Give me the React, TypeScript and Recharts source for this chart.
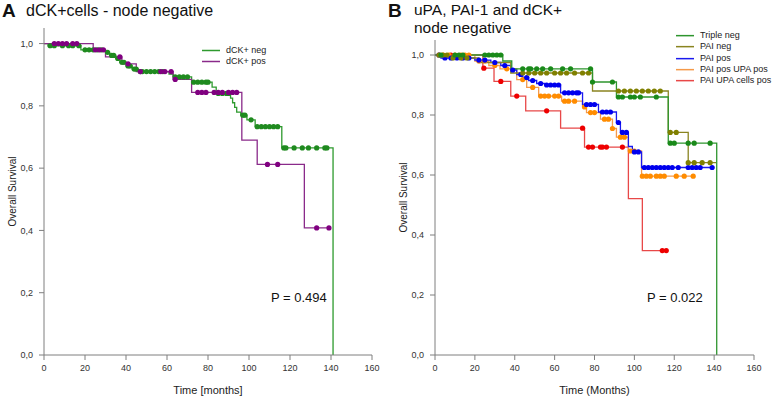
import React from "react";
import { ComposedChart, Line, XAxis, YAxis } from "recharts";

type Step = [number, number];

const xTicks = [0, 20, 40, 60, 80, 100, 120, 140, 160];
const yTicks = [0, 0.2, 0.4, 0.6, 0.8, 1.0];

// panel A: dCK+ cells, node negative
const dckNegSteps: Step[] = [
  [0, 1], [2, 0.993], [18, 0.98], [30, 0.972], [32, 0.962], [35, 0.952], [37, 0.94],
  [40, 0.928], [43, 0.918], [46, 0.91], [61, 0.902], [63, 0.893], [72, 0.876],
  [82, 0.86], [84, 0.84], [91, 0.825], [92, 0.81], [93, 0.795], [94, 0.78],
  [96, 0.77], [99, 0.755], [103, 0.733], [116, 0.665], [141, 0],
];
const dckNegCensored = [
  3, 5, 9, 12, 14, 17, 20, 22, 24, 26, 28, 31, 33, 34, 36, 38, 39, 41, 42, 44, 45, 47,
  48, 50, 52, 54, 56, 58, 64, 66, 68, 70, 73, 75, 77, 79, 80, 85, 87, 89, 90, 97, 98,
  101, 104, 106, 108, 110, 112, 114, 117, 118, 122, 126, 129, 133, 137, 138,
];
const dckNegEnd = 141;

const dckPosSteps: Step[] = [
  [0, 1], [24, 0.98], [30, 0.957], [38, 0.935], [45, 0.91], [63, 0.885],
  [72, 0.843], [96.5, 0.69], [104, 0.612], [127, 0.408],
];
const dckPosCensored = [
  5, 7, 9, 11, 14, 16, 25, 27, 29, 37, 41, 47, 57, 59, 62, 64, 75, 77, 79, 83, 85,
  87, 90, 92, 94, 109, 114, 133, 139,
];
const dckPosEnd = 139;

// panel B: uPA, PAI-1 and dCK+, node negative
const tripleNegSteps: Step[] = [
  [0, 1], [34, 0.98], [38.5, 0.954], [79, 0.91], [91, 0.86], [117, 0.706], [141.3, 0],
];
const tripleNegCensored = [
  3, 10, 12, 14, 25, 27, 29, 31, 33, 44, 47, 48, 51, 54, 58, 64, 68, 78, 79, 89,
  92, 94, 98, 100, 103, 111, 118, 120, 127, 130, 138,
];
const tripleNegEnd = 141.3;

const paiNegSteps: Step[] = [
  [0, 1], [8, 0.99], [22, 0.975], [38, 0.94], [79, 0.88], [117, 0.742], [127, 0.641],
];
const paiNegCensored = [
  2, 4, 6, 9, 13, 16, 44, 47, 50, 53, 56, 60, 63, 66, 70, 74, 77, 92, 95, 98, 101,
  104, 107, 110, 113, 118, 121, 127, 130, 134, 138,
];
const paiNegEnd = 141;

const paiPosSteps: Step[] = [
  [0, 1], [3, 0.99], [20, 0.983], [28, 0.975], [33, 0.965], [38, 0.95], [41, 0.935],
  [44, 0.925], [47, 0.915], [51, 0.905], [55, 0.9], [63, 0.874], [74, 0.835],
  [82, 0.81], [91, 0.775], [93, 0.742], [97, 0.695], [99, 0.677], [103.6, 0.625],
];
const paiPosCensored = [
  2, 5, 8, 11, 14, 17, 22, 25, 30, 35, 39, 43, 46, 49, 53, 56, 58, 60, 62, 65, 67,
  69, 71, 72, 76, 78, 80, 84, 86, 88, 92, 94, 96, 100, 102, 105, 107, 109, 111, 113,
  115, 117, 119, 122, 127, 129, 131, 133, 139,
];
const paiPosEnd = 140;

const paiUpaPosSteps: Step[] = [
  [0, 1], [20, 0.98], [27, 0.965], [32.6, 0.954], [41, 0.918], [46, 0.892],
  [52, 0.863], [63.5, 0.846], [74, 0.827], [76, 0.808], [83, 0.786], [89, 0.755],
  [91, 0.726], [97, 0.68], [103.6, 0.596],
];
const paiUpaPosCensored = [
  2, 4, 7, 10, 13, 15, 17, 22, 25, 30, 36, 44, 49, 53, 55, 57, 60, 62, 65, 67, 70,
  75, 78, 80, 85, 87, 89, 93, 95, 98, 100, 104, 106, 108, 111, 113, 115, 121, 125, 129.5,
];
const paiUpaPosEnd = 130;

const upaCellsPosSteps: Step[] = [
  [0, 1], [24, 0.956], [29.6, 0.912], [38, 0.863], [45.5, 0.814], [63, 0.756],
  [75, 0.693], [97, 0.521], [104, 0.348],
];
const upaCellsPosCensored = [8, 24.5, 33, 41, 56, 74, 77, 79, 83, 84, 86, 94, 114, 116];
const upaCellsPosEnd = 116;

const buildCurve = (steps: Step[], censored: number[], end: number) => {
  const level = (t: number) => {
    let s = steps[0][1];
    for (const [st, sv] of steps) if (st <= t) s = sv;
    return s;
  };
  const times = Array.from(new Set([...steps.map((p) => p[0]), ...censored, end]))
    .filter((t) => t <= end)
    .sort((a, b) => a - b);
  return times.map((t) => ({ t, s: level(t), c: censored.includes(t) }));
};

const censorDot = (color: string) => (props: any) => {
  if (!props.payload || !props.payload.c) return <g key={`n${props.index}`} />;
  return <circle key={`d${props.index}`} cx={props.cx} cy={props.cy} r={2.6} fill={color} />;
};

const font = '"Liberation Sans", Arial, sans-serif';
const axisColor = "#7f7f7f";
const tickStyle = { fontSize: 9, fill: "#333", fontFamily: font };

const seriesA = [
  { name: "dCK+ neg", color: "#1f8a1f", line: "#2e9a2e", data: buildCurve(dckNegSteps, dckNegCensored, dckNegEnd) },
  { name: "dCK+ pos", color: "#800080", line: "#8a2a8a", data: buildCurve(dckPosSteps, dckPosCensored, dckPosEnd) },
];

const seriesB = [
  { name: "Triple neg", color: "#1a8a1a", line: "#2e952e", data: buildCurve(tripleNegSteps, tripleNegCensored, tripleNegEnd) },
  { name: "PAI neg", color: "#808000", line: "#8a8420", data: buildCurve(paiNegSteps, paiNegCensored, paiNegEnd) },
  { name: "PAI pos", color: "#0000ee", line: "#1a1aee", data: buildCurve(paiPosSteps, paiPosCensored, paiPosEnd) },
  { name: "PAI pos UPA pos", color: "#ff8c00", line: "#f59a4a", data: buildCurve(paiUpaPosSteps, paiUpaPosCensored, paiUpaPosEnd) },
  { name: "PAI UPA cells pos", color: "#ee0000", line: "#e84848", data: buildCurve(upaCellsPosSteps, upaCellsPosCensored, upaCellsPosEnd) },
];

const LegendBox = ({ items, left, top, gap }: { items: { name: string; line: string }[]; left: number; top: number; gap: number }) => (
  <div style={{ position: "absolute", left, top, fontFamily: font, fontSize: 9, color: "#222" }}>
    {items.map((it) => (
      <div key={it.name} style={{ display: "flex", alignItems: "center", height: gap }}>
        <svg width={24} height={gap}>
          <line x1={0} x2={18} y1={gap / 2} y2={gap / 2} stroke={it.line} strokeWidth={1.5} />
        </svg>
        <span style={{ lineHeight: 1 }}>{it.name}</span>
      </div>
    ))}
  </div>
);

const KMPanel = ({
  series,
  width,
  margin,
  xLabel,
  drawOrder,
}: {
  series: typeof seriesB;
  width: number;
  margin: { top: number; right: number; left: number; bottom: number };
  xLabel: string;
  drawOrder: number[];
}) => (
  <ComposedChart width={width} height={400} margin={margin}>
    <XAxis
      dataKey="t"
      type="number"
      domain={[0, 160]}
      ticks={xTicks}
      interval={0}
      stroke={axisColor}
      tick={tickStyle}
      tickSize={5}
      tickMargin={5}
      height={45}
      label={{ value: xLabel, position: "insideBottom", offset: 6, style: { fontSize: 11, fill: "#222", fontFamily: font } }}
    />
    <YAxis
      dataKey="s"
      type="number"
      domain={[0, 1.05]}
      ticks={yTicks}
      interval={0}
      stroke={axisColor}
      tick={tickStyle}
      tickSize={5}
      tickMargin={6}
      width={40}
      tickFormatter={(v: number) => v.toFixed(1).replace(".", ",")}
      label={{
        value: "Overall Survival",
        angle: -90,
        position: "insideLeft",
        offset: 8,
        style: { fontSize: 10, fill: "#222", fontFamily: font, textAnchor: "middle" },
      }}
    />
    {drawOrder.map((i) => {
      const s = series[i];
      return (
        <Line
          key={s.name}
          data={s.data}
          dataKey="s"
          name={s.name}
          type="stepAfter"
          stroke={s.line}
          strokeWidth={1.3}
          dot={censorDot(s.color)}
          activeDot={false}
          isAnimationActive={false}
        />
      );
    })}
  </ComposedChart>
);

const titleStyle: React.CSSProperties = { position: "absolute", fontSize: 16, color: "#111", whiteSpace: "nowrap", lineHeight: "14px" };
const letterStyle: React.CSSProperties = { position: "absolute", fontSize: 19, fontWeight: "bold", color: "#111", lineHeight: "20px" };

export default function App() {
  return (
    <div style={{ position: "absolute", left: 0, top: 0, width: 778, height: 400, background: "#fff", fontFamily: font }}>
      <div style={{ position: "absolute", left: 0, top: 0 }}>
        <KMPanel
          series={seriesA}
          width={390}
          margin={{ top: 28, right: 18, left: 4, bottom: 0 }}
          xLabel="Time [months]"
          drawOrder={[0, 1]}
        />
      </div>
      <div style={{ position: "absolute", left: 390, top: 0 }}>
        <KMPanel
          series={seriesB}
          width={388}
          margin={{ top: 40, right: 24, left: 5, bottom: 0 }}
          xLabel="Time (Months)"
          drawOrder={[4, 3, 2, 1, 0]}
        />
      </div>

      <div style={{ ...letterStyle, left: 2, top: 1 }}>A</div>
      <div style={{ ...titleStyle, left: 26, top: 4 }}>dCK+cells - node negative</div>
      <div style={{ ...letterStyle, left: 388, top: 1 }}>B</div>
      <div style={{ ...titleStyle, left: 414, top: 1, fontSize: 15.5, lineHeight: "17.5px" }}>
        uPA, PAI-1 and dCK+
        <br />
        node negative
      </div>

      <LegendBox items={seriesA} left={202} top={45} gap={11} />
      <LegendBox items={seriesB} left={676} top={30} gap={11.3} />

      <div style={{ position: "absolute", left: 271, top: 290, fontSize: 13, color: "#111" }}>P = 0.494</div>
      <div style={{ position: "absolute", left: 647, top: 290, fontSize: 13, color: "#111" }}>P = 0.022</div>
    </div>
  );
}
